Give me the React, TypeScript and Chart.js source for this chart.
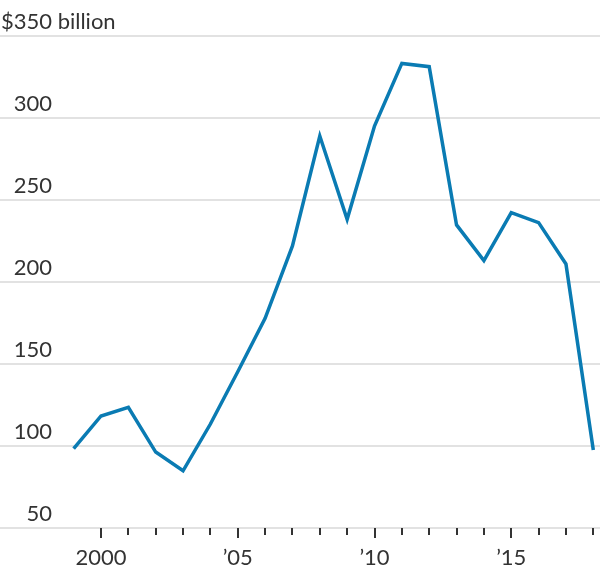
import React, { useEffect, useRef } from "react";
import { Chart, registerables } from "chart.js";

Chart.register(...registerables);

const years = [1999, 2000, 2001, 2002, 2003, 2004, 2005, 2006, 2007, 2008, 2009, 2010, 2011, 2012, 2013, 2014, 2015, 2016, 2017, 2018];
const values = [98.4, 118.3, 123.6, 96.3, 84.9, 113.4, 145.3, 177.9, 222, 289, 238.2, 295.1, 333.3, 331.3, 234.8, 213, 242.3, 236.2, 211, 97.6];
const yTicks = [50, 100, 150, 200, 250, 300, 350];
const xTickYears = [2000, 2001, 2002, 2003, 2004, 2005, 2006, 2007, 2008, 2009, 2010, 2011, 2012, 2013, 2014, 2015, 2016, 2017, 2018];
const xLabels: Record<number, string> = { 2000: "2000", 2005: "\u201905", 2010: "\u201910", 2015: "\u201915" };

const FONT = "Lato, 'Open Sans', sans-serif";

export default function App() {
  const ref = useRef<HTMLCanvasElement | null>(null);
  useEffect(() => {
    document.body.style.margin = "0";
    const canvas = ref.current!;
    const overlay = {
      id: "overlay",
      afterDraw(chart: any) {
        const ctx = chart.ctx;
        const y = chart.scales.y;
        const x = chart.scales.x;
        ctx.save();
        ctx.fillStyle = "#333";
        ctx.font = `22px ${FONT}`;
        ctx.textBaseline = "alphabetic";
        yTicks.forEach((v) => {
          const py = y.getPixelForValue(v) - 7;
          const num = String(v);
          const w = ctx.measureText(num).width;
          const right = 52;
          ctx.textAlign = "left";
          ctx.fillText(num, right - w, py);
          if (v === 350) {
            const dw = ctx.measureText("$").width;
            ctx.fillText("$", right - w - dw, py);
            ctx.fillText(" billion", right, py);
          }
        });
        // x ticks
        ctx.strokeStyle = "#333";
        ctx.lineWidth = 2;
        const base = chart.chartArea.bottom;
        xTickYears.forEach((yr) => {
          const px = Math.round(x.getPixelForValue(yr));
          const len = xLabels[yr] ? 10 : 7;
          ctx.beginPath();
          ctx.moveTo(px, base);
          ctx.lineTo(px, base + len);
          ctx.stroke();
        });
        ctx.textAlign = "center";
        ctx.font = `22px ${FONT}`;
        Object.keys(xLabels).forEach((k) => {
          const yr = Number(k);
          ctx.fillText(xLabels[yr], x.getPixelForValue(yr), 565);
        });
        ctx.restore();
      },
    };
    const chart = new Chart(canvas, {
      type: "line",
      data: {
        datasets: [
          {
            data: years.map((yr, i) => ({ x: yr, y: values[i] })),
            borderColor: "#0a7bb3",
            borderWidth: 3.5,
            pointRadius: 0,
            tension: 0,
            fill: false,
            borderJoinStyle: "miter",
          },
        ],
      },
      options: {
        animation: false,
        responsive: false,
        devicePixelRatio: 1,
        layout: { padding: { top: 36, bottom: 0, left: 0, right: 0 } },
        plugins: { legend: { display: false }, tooltip: { enabled: false } },
        scales: {
          x: {
            type: "linear",
            min: 1996.307,
            max: 2018.245,
            grid: { display: false },
            border: { display: false },
            ticks: { display: false },
            afterFit: (s: any) => {
              s.height = 42;
            },
          },
          y: {
            min: 50,
            max: 350,
            afterBuildTicks: (s: any) => {
              s.ticks = yTicks.map((v) => ({ value: v }));
            },
            grid: { color: "#e2e2e2", lineWidth: 2, drawTicks: false },
            border: { display: false },
            ticks: { display: false },
            afterFit: (s: any) => {
              s.width = 0;
            },
          },
        },
      },
      plugins: [overlay],
    } as any);
    return () => chart.destroy();
  }, []);
  return <canvas ref={ref} width={600} height={570} style={{ display: "block" }} />;
}
